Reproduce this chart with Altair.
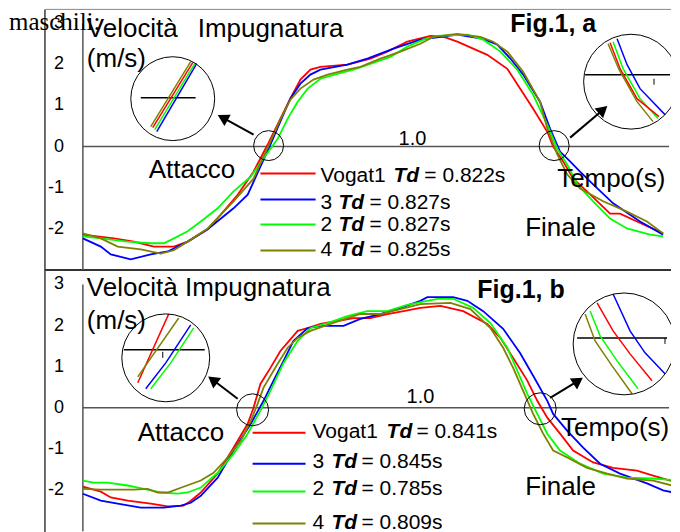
import altair as alt
import pandas as pd

SERIES = ["Vogat1", "3", "2", "4"]
COLORS = ["#ff0000", "#0000ff", "#00ff00", "#808000"]

# ---------------- Panel a (Fig.1, a) ----------------
A_RED_T = [0, 0.09, 0.148, 0.206, 0.264, 0.304, 0.362, 0.40, 0.449, 0.495, 0.536, 0.573, 0.602, 0.631, 0.660, 0.689, 0.767, 0.834, 0.883, 0.941, 1.008, 1.045, 1.086, 1.173, 1.231, 1.268, 1.306, 1.347, 1.364, 1.393, 1.422, 1.462, 1.529, 1.558, 1.607, 1.683]
A_RED_V = [-2.14, -2.23, -2.31, -2.43, -2.43, -2.31, -2.01, -1.65, -1.17, -0.61, 0.05, 0.68, 1.17, 1.63, 1.87, 1.94, 1.99, 2.14, 2.31, 2.55, 2.69, 2.67, 2.55, 2.23, 1.89, 1.41, 0.92, 0.36, 0.0, -0.36, -0.78, -1.09, -1.63, -1.63, -1.82, -2.11]
A_BLUE_T = [0, 0.052, 0.081, 0.139, 0.197, 0.246, 0.304, 0.362, 0.437, 0.478, 0.515, 0.544, 0.573, 0.602, 0.631, 0.660, 0.689, 0.767, 0.825, 0.901, 0.979, 1.086, 1.161, 1.202, 1.240, 1.277, 1.326, 1.355, 1.384, 1.413, 1.442, 1.480, 1.538, 1.616, 1.683]
A_BLUE_V = [-2.23, -2.43, -2.62, -2.74, -2.62, -2.55, -2.31, -2.01, -1.50, -1.17, -0.49, 0.05, 0.61, 1.17, 1.53, 1.75, 1.87, 1.99, 2.14, 2.38, 2.60, 2.72, 2.62, 2.48, 2.14, 1.75, 1.09, 0.44, -0.12, -0.36, -0.61, -0.92, -1.38, -1.82, -2.14]
A_GREEN_T = [0, 0.052, 0.130, 0.197, 0.235, 0.264, 0.304, 0.342, 0.391, 0.437, 0.487, 0.524, 0.565, 0.594, 0.623, 0.652, 0.689, 0.738, 0.785, 0.834, 0.892, 0.941, 0.988, 1.028, 1.115, 1.161, 1.211, 1.260, 1.306, 1.347, 1.376, 1.405, 1.434, 1.480, 1.529, 1.578, 1.645, 1.683]
A_GREEN_V = [-2.18, -2.23, -2.31, -2.35, -2.35, -2.23, -2.06, -1.82, -1.50, -1.09, -0.73, -0.29, 0.19, 0.68, 1.09, 1.41, 1.65, 1.77, 1.87, 2.01, 2.18, 2.43, 2.60, 2.69, 2.72, 2.60, 2.31, 1.87, 1.26, 0.53, -0.05, -0.44, -0.92, -1.33, -1.75, -1.99, -2.14, -2.18]
A_OLIVE_T = [0, 0.052, 0.101, 0.168, 0.226, 0.264, 0.304, 0.362, 0.437, 0.495, 0.521, 0.544, 0.573, 0.602, 0.631, 0.669, 0.710, 0.767, 0.805, 0.863, 0.921, 0.979, 1.017, 1.086, 1.153, 1.190, 1.231, 1.277, 1.326, 1.347, 1.376, 1.405, 1.442, 1.509, 1.578, 1.636, 1.683]
A_OLIVE_V = [-2.11, -2.23, -2.43, -2.50, -2.60, -2.52, -2.31, -1.99, -1.33, -0.78, -0.29, 0.12, 0.66, 1.14, 1.41, 1.63, 1.75, 1.87, 1.94, 2.14, 2.31, 2.50, 2.67, 2.74, 2.67, 2.55, 2.31, 1.82, 1.09, 0.44, -0.19, -0.68, -1.02, -1.33, -1.58, -1.82, -2.11]
A_TD = ["0.822s", "0.827s", "0.827s", "0.825s"]

# ---------------- Panel b (Fig.1, b) ----------------
B_RED_T = [0, 0.052, 0.081, 0.130, 0.197, 0.246, 0.292, 0.313, 0.342, 0.391, 0.437, 0.478, 0.495, 0.515, 0.544, 0.573, 0.623, 0.652, 0.689, 0.738, 0.785, 0.834, 0.883, 0.930, 0.979, 1.037, 1.103, 1.173, 1.211, 1.248, 1.289, 1.318, 1.347, 1.384, 1.422, 1.480, 1.538, 1.607, 1.654, 1.732]
B_RED_V = [-1.92, -2.04, -2.18, -2.26, -2.33, -2.40, -2.38, -2.26, -2.06, -1.60, -0.97, -0.39, 0.0, 0.58, 0.97, 1.38, 1.87, 1.94, 2.04, 2.11, 2.18, 2.18, 2.28, 2.35, 2.43, 2.48, 2.35, 2.04, 1.70, 1.21, 0.66, 0.17, -0.24, -0.63, -1.04, -1.33, -1.46, -1.53, -1.65, -1.84]
B_BLUE_T = [0, 0.052, 0.101, 0.168, 0.235, 0.284, 0.313, 0.342, 0.391, 0.437, 0.487, 0.524, 0.553, 0.582, 0.611, 0.652, 0.689, 0.756, 0.805, 0.863, 0.921, 0.979, 0.999, 1.074, 1.115, 1.161, 1.219, 1.268, 1.306, 1.347, 1.364, 1.405, 1.451, 1.500, 1.558, 1.636, 1.683, 1.732]
B_BLUE_V = [-2.09, -2.26, -2.33, -2.43, -2.43, -2.38, -2.31, -2.14, -1.70, -1.04, -0.39, 0.17, 0.66, 1.14, 1.63, 1.94, 1.99, 1.99, 2.16, 2.28, 2.43, 2.60, 2.69, 2.69, 2.60, 2.35, 1.92, 1.33, 0.78, 0.17, -0.15, -0.56, -0.97, -1.36, -1.60, -1.84, -2.01, -2.09]
B_GREEN_T = [0, 0.032, 0.072, 0.130, 0.177, 0.226, 0.275, 0.304, 0.342, 0.391, 0.437, 0.478, 0.515, 0.544, 0.582, 0.623, 0.660, 0.710, 0.767, 0.825, 0.883, 0.941, 1.028, 1.074, 1.132, 1.182, 1.231, 1.260, 1.289, 1.318, 1.347, 1.384, 1.442, 1.509, 1.578, 1.654, 1.732]
B_GREEN_V = [-1.77, -1.82, -1.82, -1.89, -1.97, -2.06, -2.09, -2.06, -1.94, -1.58, -1.12, -0.63, -0.07, 0.41, 1.09, 1.63, 1.94, 2.06, 2.23, 2.35, 2.35, 2.50, 2.65, 2.65, 2.43, 2.06, 1.46, 0.90, 0.34, -0.15, -0.63, -1.04, -1.36, -1.60, -1.70, -1.72, -1.77]
B_OLIVE_T = [0, 0.052, 0.148, 0.188, 0.217, 0.246, 0.292, 0.342, 0.379, 0.420, 0.458, 0.487, 0.507, 0.524, 0.565, 0.594, 0.623, 0.660, 0.718, 0.767, 0.805, 0.863, 0.921, 0.979, 1.066, 1.124, 1.182, 1.219, 1.248, 1.277, 1.306, 1.335, 1.364, 1.405, 1.462, 1.521, 1.578, 1.654, 1.732]
B_OLIVE_V = [-1.97, -1.99, -1.99, -1.97, -2.06, -2.06, -1.92, -1.77, -1.58, -1.21, -0.80, -0.32, 0.10, 0.49, 1.07, 1.46, 1.70, 1.87, 2.04, 2.18, 2.28, 2.28, 2.40, 2.52, 2.55, 2.40, 1.94, 1.46, 0.97, 0.41, -0.15, -0.63, -1.04, -1.21, -1.46, -1.60, -1.72, -1.77, -1.94]
B_TD = ["0.841s", "0.845s", "0.785s", "0.809s"]

# magnified views (segments inside the big circles), as (t, v) lists per series
A_MAG_L = {"4": ([0.1969, 0.3128], [0.485, 2.063]), "Vogat1": ([0.2027, 0.3186], [0.461, 2.039]),
           "2": ([0.2085, 0.3244], [0.413, 2.015]), "3": ([0.2143, 0.3301], [0.364, 2.015])}
A_MAG_R = {"3": ([1.5494, 1.5784, 1.6160, 1.6884], [2.621, 1.990, 1.408, 0.777]),
           "2": ([1.5378, 1.5668, 1.6160, 1.6681], [2.549, 1.893, 1.165, 0.680]),
           "Vogat1": ([1.5291, 1.5581, 1.6073, 1.6710], [2.524, 1.893, 1.165, 0.728]),
           "4": ([1.5233, 1.5552, 1.6073, 1.6536], [2.500, 1.869, 1.092, 0.607])}
B_MAG_L = {"Vogat1": ([0.1593, 0.2491], [0.607, 2.282]), "4": ([0.1593, 0.2780], [0.752, 2.184]),
           "3": ([0.1824, 0.2404, 0.3128], [0.461, 1.092, 2.015]),
           "2": ([0.1969, 0.2548, 0.3215], [0.461, 1.092, 1.942])}
B_MAG_R = {"3": ([1.5378, 1.5870, 1.6305, 1.6884], [2.767, 1.869, 1.335, 0.825]),
           "Vogat1": ([1.4915, 1.5378, 1.5870, 1.6507], [2.549, 1.869, 1.311, 0.655]),
           "2": ([1.4712, 1.5001, 1.5494, 1.6102], [2.354, 1.748, 1.141, 0.461]),
           "4": ([1.4567, 1.4857, 1.5349, 1.5928], [2.282, 1.626, 1.019, 0.340])}

X_TICKS = [round(i * 0.1, 1) for i in range(18)]
Y_TICKS = [-3, -2, -1, 0, 1, 2, 3]
Y_LABELS = [-2, -1, 0, 1, 2, 3]

SANS = "Liberation Sans"
XMIN, XMAX = -0.110, 1.7058
PLOT_W = 627
XS = alt.Scale(domain=[XMIN, XMAX], nice=False, zero=False)
CS = alt.Scale(domain=SERIES, range=COLORS)


def curves_df(pairs):
    rows = []
    for name, ts, vs in pairs:
        for i, (t, v) in enumerate(zip(ts, vs)):
            rows.append({"series": name, "t": t, "v": v, "i": i})
    return pd.DataFrame(rows)


def mag_df(mag):
    return curves_df([(k, ts, vs) for k, (ts, vs) in mag.items()])


def enc(ys, extra=None):
    d = dict(x=alt.X("t:Q", scale=XS, axis=None), y=alt.Y("v:Q", scale=ys, axis=None))
    if extra:
        d.update(extra)
    return d


def texts(ys, rows, size, align="left", weight="normal", style="normal", font=SANS,
          baseline="alphabetic", clip=False):
    df = pd.DataFrame(rows, columns=["t", "v", "s"])
    return alt.Chart(df).mark_text(align=align, baseline=baseline, fontSize=size,
                                   fontWeight=weight, fontStyle=style, font=font, clip=clip,
                                   color="black").encode(**enc(ys, {"text": "s:N"}))


def hrule(ys, t1, t2, v, color, width):
    return alt.Chart(pd.DataFrame({"t": [t1], "t2": [t2], "v": [v]})).mark_rule(
        color=color, strokeWidth=width).encode(**enc(ys, {"x2": "t2:Q"}))


def vrule(ys, t, v1, v2, color, width):
    return alt.Chart(pd.DataFrame({"t": [t], "v": [v1], "v2": [v2]})).mark_rule(
        color=color, strokeWidth=width).encode(**enc(ys, {"y2": "v2:Q"}))


def panel(curves, ydom, height, xoff, top_line, bottom_line, mags, small_c, big_c, arrows, labels, bold, tick10,
          leg_line_t, leg_line_v, leg_txt_v, leg_name_t, leg_td_t, leg_eq_t, tds, extra_texts):
    ys = alt.Scale(domain=ydom, nice=False, zero=False)
    cdf = curves_df(curves)
    layers = []
    # frame of the figure (left edge, top / separator)
    layers.append(vrule(ys, XMIN, ydom[0], ydom[1], "#3a3a3a", 1.5))
    if top_line:
        layers.append(hrule(ys, XMIN, XMAX, ydom[1], "#888888", 1))
    if bottom_line:
        layers.append(hrule(ys, XMIN, XMAX, ydom[0], "#333333", 2))
    # axes (ticks) + axis lines
    layers.append(alt.Chart(pd.DataFrame({"t": [0], "v": [-3], "v2": [3]})).mark_rule(
        color="#555", strokeWidth=1.5).encode(
        x=alt.X("t:Q", scale=XS, axis=alt.Axis(values=X_TICKS, labels=False, domain=False, grid=False,
                                                tickSize=5, tickColor="#555", tickWidth=1.2,
                                                offset=xoff, title=None)),
        y=alt.Y("v:Q", scale=ys, axis=alt.Axis(values=Y_TICKS, labels=False, domain=False, grid=False,
                                                tickSize=6, tickColor="#555", tickWidth=1.2,
                                                offset=-38, title=None)),
        y2="v2:Q"))
    layers.append(hrule(ys, 0, 1.7, 0, "#555", 1.5))
    # y tick labels
    layers.append(texts(ys, [(-0.055, v, str(v)) for v in Y_LABELS], 18, align="right", baseline="middle"))
    # curves
    layers.append(alt.Chart(cdf).mark_line(strokeWidth=1.8, clip=True).encode(
        **enc(ys, {"color": alt.Color("series:N", scale=CS, legend=None), "order": "i:Q"})))
    # magnifiers
    for (hl_t, hl_v, tick, mag) in mags:
        layers.append(hrule(ys, hl_t[0], hl_t[1], hl_v, "black", 1.5))
        if tick:
            layers.append(vrule(ys, tick[0], tick[1], tick[2], "black", 1))
        layers.append(alt.Chart(mag_df(mag)).mark_line(strokeWidth=1.5, clip=True).encode(
            **enc(ys, {"color": alt.Color("series:N", scale=CS, legend=None), "order": "i:Q"})))
    # circles
    for (ct, cv, sz) in small_c + big_c:
        layers.append(alt.Chart(pd.DataFrame({"t": [ct], "v": [cv]})).mark_point(
            shape="circle", filled=False, stroke="black", strokeWidth=1, size=sz, opacity=1,
            clip=True).encode(**enc(ys)))
    # arrows
    for (t1, v1, t2, v2, ang) in arrows:
        layers.append(alt.Chart(pd.DataFrame({"t": [t1], "v": [v1], "t2": [t2], "v2": [v2]})).mark_rule(
            color="black", strokeWidth=2).encode(**enc(ys, {"x2": "t2:Q", "y2": "v2:Q"})))
        layers.append(alt.Chart(pd.DataFrame({"t": [t2], "v": [v2]})).mark_point(
            shape="triangle-up", filled=True, color="black", size=170, angle=ang, opacity=1).encode(**enc(ys)))
    # legend lines
    ldf = pd.DataFrame({"series": SERIES, "t": [leg_line_t[0]] * 4, "t2": [leg_line_t[1]] * 4, "v": leg_line_v})
    layers.append(alt.Chart(ldf).mark_rule(strokeWidth=2).encode(
        **enc(ys, {"x2": "t2:Q", "color": alt.Color("series:N", scale=CS, legend=None)})))
    # legend texts
    layers.append(texts(ys, [(leg_name_t, v, s) for v, s in zip(leg_txt_v, SERIES)], 21))
    layers.append(texts(ys, [(t, v, "Td") for t, v in zip(leg_td_t, leg_txt_v)], 21, weight="bold", style="italic"))
    layers.append(texts(ys, [(t, v, "= " + td) for t, v, td in zip(leg_eq_t, leg_txt_v, tds)], 21))
    # labels
    layers.append(texts(ys, labels, 26, clip=True))
    layers.append(texts(ys, bold, 25, weight="bold", clip=True))
    layers.append(texts(ys, [tick10], 20, align="center"))
    for et in extra_texts:
        layers.append(et(ys))
    return alt.layer(*layers).properties(width=PLOT_W, height=height)


panel_a = panel(
    curves=[("Vogat1", A_RED_T, A_RED_V), ("3", A_BLUE_T, A_BLUE_V), ("2", A_GREEN_T, A_GREEN_V), ("4", A_OLIVE_T, A_OLIVE_V)],
    ydom=[-3, 3.335], height=261, xoff=-124, top_line=True, bottom_line=True,
    mags=[((0.168, 0.327), 1.189, None, A_MAG_L), ((1.4567, 1.7029), 1.748, (1.6565, 1.650, 1.505), A_MAG_R)],
    small_c=[(0.5387, 0.024, 900), (1.3669, 0.024, 900)],
    big_c=[(0.2606, 1.165, 7056), (1.5899, 1.578, 9025)],
    arrows=[(0.4952, 0.291, 0.4054, 0.704, 299), (1.4133, 0.218, 1.5088, 0.898, 49)],
    labels=[(0.0116, 2.67, "Velocità"), (0.333, 2.67, "Impugnatura"), (0.0116, 1.94, "(m/s)"),
            (0.191, -0.752, "Attacco"), (1.3756, -0.971, "Tempo(s)"), (1.283, -2.184, "Finale")],
    bold=[(1.2395, 2.79, "Fig.1, a")],
    tick10=(0.956, 0.03, "1.0"),
    leg_line_t=(0.515, 0.675), leg_line_v=[-0.655, -1.286, -1.893, -2.524],
    leg_txt_v=[-0.85, -1.505, -2.063, -2.670], leg_name_t=0.689,
    leg_td_t=[0.9007, 0.7414, 0.7414, 0.7414], leg_eq_t=[0.9904, 0.8312, 0.8312, 0.8312], tds=A_TD,
    extra_texts=[lambda ys: texts(ys, [(-0.2143, 2.84, "maschili:")], 25, font="Liberation Serif")],
)

panel_b = panel(
    curves=[("Vogat1", B_RED_T, B_RED_V), ("3", B_BLUE_T, B_BLUE_V), ("2", B_GREEN_T, B_GREEN_V), ("4", B_OLIVE_T, B_OLIVE_V)],
    ydom=[-3.23, 3.35], height=271, xoff=-133, top_line=False, bottom_line=False,
    mags=[((0.1187, 0.3533), 1.408, (0.2317, 1.36, 1.214), B_MAG_L), ((1.4335, 1.6942), 1.699, (1.6884, 1.699, 1.553), B_MAG_R)],
    small_c=[(0.4923, -0.049, 1024), (1.3264, -0.024, 1024)],
    big_c=[(0.2404, 1.214, 7744), (1.5697, 1.553, 10404)],
    arrows=[(0.4489, 0.218, 0.3765, 0.680, 307), (1.3553, 0.243, 1.4364, 0.655, 56)],
    labels=[(0.0116, 2.718, "Velocità Impugnatura"), (0.0116, 1.917, "(m/s)"),
            (0.159, -0.80, "Attacco"), (1.387, -0.68, "Tempo(s)"), (1.283, -2.11, "Finale")],
    bold=[(1.144, 2.67, "Fig.1, b")],
    tick10=(0.979, 0.12, "1.0"),
    leg_line_t=(0.4923, 0.6458), leg_line_v=[-0.607, -1.359, -2.039, -2.816],
    leg_txt_v=[-0.728, -1.456, -2.112, -2.937], leg_name_t=0.6661,
    leg_td_t=[0.8809, 0.7210, 0.7210, 0.7210], leg_eq_t=[0.9673, 0.8080, 0.8080, 0.8080], tds=B_TD,
    extra_texts=[],
)

chart = alt.vconcat(panel_a, panel_b, spacing=0, bounds="flush").resolve_scale(
    x="independent", y="independent"
).configure_view(stroke=None).properties(padding=0, background="white")

chart.save("out.html", embed_options={"renderer": "svg", "actions": False})
